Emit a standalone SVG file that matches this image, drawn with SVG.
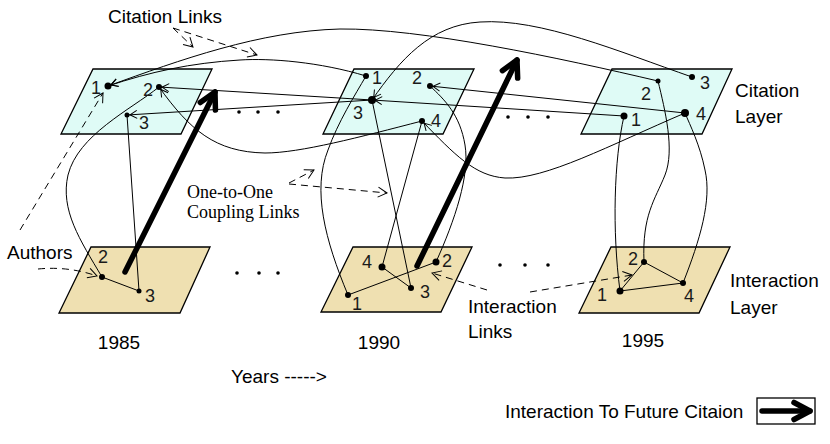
<svg xmlns="http://www.w3.org/2000/svg" width="830" height="444" viewBox="0 0 830 444">
<defs>
<style>
.cit{fill:#dffbf6;stroke:#000;stroke-width:1.3}
.int{fill:#efe0b1;stroke:#000;stroke-width:1.3}
.link{fill:none;stroke:#000;stroke-width:1}
.cite{marker-end:url(#ah)}
.dash{fill:none;stroke:#000;stroke-width:1;stroke-dasharray:7 5;marker-end:url(#dah)}
.thick{fill:none;stroke:#000;stroke-width:5.5;stroke-linecap:round;marker-end:url(#big)}
.lbl{font-family:"Liberation Sans",Arial,sans-serif;font-size:18px;fill:#1a1a1a;text-anchor:middle}
.txt{font-family:"Liberation Sans",Arial,sans-serif;font-size:19px;fill:#000}
.yr{text-anchor:middle}
.serif{font-family:"Liberation Serif","Times New Roman",serif;font-size:18px;fill:#000}
</style>
<marker id="ah" markerUnits="userSpaceOnUse" viewBox="-10 -6 14 12" markerWidth="14" markerHeight="12" refX="3" refY="0" orient="auto">
<path d="M-7,-4 L0,0 L-7,4" fill="none" stroke="#000" stroke-width="1"/>
</marker>
<marker id="dah" markerUnits="userSpaceOnUse" viewBox="-12 -7 14 14" markerWidth="14" markerHeight="14" refX="0" refY="0" orient="auto">
<path d="M-9,-5 L0,0 L-9,5" fill="none" stroke="#000" stroke-width="1"/>
</marker>
<marker id="big" markerUnits="userSpaceOnUse" viewBox="-22 -14 28 28" markerWidth="28" markerHeight="28" refX="0" refY="0" orient="auto">
<path d="M-16,-8.5 L0,0 L-16,8.5" fill="none" stroke="#000" stroke-width="5.5" stroke-linecap="round" stroke-linejoin="round"/>
</marker>
</defs>
<rect width="830" height="444" fill="#fff"/>

<g id="planes">
<polygon id="cit1985" class="cit" points="93,69 212,69 181,134 61,134"/>
<polygon id="cit1990" class="cit" points="354,69 474,69 443,134 323,134"/>
<polygon id="cit1995" class="cit" points="612,69 732,69 702,134 581,134"/>
<polygon id="int1985" class="int" points="91,247 210,247 180,313 59,313"/>
<polygon id="int1990" class="int" points="353,247 472,247 441,312 321,312"/>
<polygon id="int1995" class="int" points="611,247 730,247 699,313 579,313"/>
</g>

<g id="ellipses" fill="#000">
<circle cx="239" cy="112" r="1.8"/><circle cx="258" cy="112" r="1.8"/><circle cx="278" cy="112" r="1.8"/>
<circle cx="508" cy="117" r="1.8"/><circle cx="528" cy="117" r="1.8"/><circle cx="548" cy="117" r="1.8"/>
<circle cx="237" cy="273" r="1.8"/><circle cx="259" cy="273" r="1.8"/><circle cx="278" cy="273" r="1.8"/>
<circle cx="500" cy="265" r="1.8"/><circle cx="525" cy="265" r="1.8"/><circle cx="548" cy="265" r="1.8"/>
</g>

<g id="connectors">
<g id="citation-links">
<path class="link cite" d="M658,81 C560,58 420,28 340,29 C260,31 180,60 108,86"/>
<path class="link cite" d="M692,77 C620,52 540,18 480,22 C430,25 400,60 372,100"/>
<path class="link cite" d="M366,76 C320,62 270,58 240,60 C190,63 150,72 108,86"/>
<path class="link cite" d="M372,100 L159,87"/>
<path class="link cite" d="M372,100 L127,115"/>
<path class="link cite" d="M422,121 C360,137 300,153 265,153 C215,152 190,130 159,87"/>
<path class="link cite" d="M624,116 L372,100"/>
<path class="link cite" d="M685,113 L430,86"/>
<path class="link cite" d="M685,113 C610,145 545,180 505,178 C475,176 455,155 422,121"/>
</g>
<g id="coupling-links">
<path class="link" d="M102,277 C80,240 60,210 68,175 C78,135 130,110 159,87"/>
<path class="link" d="M139,291 L127,115"/>
<path class="link" d="M348,295 C325,240 312,190 328,150 C338,122 355,95 366,76"/>
<path class="link" d="M411,288 L372,100"/>
<path class="link" d="M382,267 L422,121"/>
<path class="link" d="M436,262 C455,220 470,175 465,145 C460,115 445,100 430,86"/>
<path class="link" d="M620,291 C612,230 614,160 624,116"/>
<path class="link" d="M644,262 C642,215 655,200 665,175 C675,150 665,110 658,81"/>
<path class="link" d="M683,283 C700,240 712,200 705,170 C700,145 690,125 685,113"/>
</g>
<g id="interaction-links">
<path class="link" d="M102,277 L139,291"/>
<path class="link" d="M348,295 L436,262"/>
<path class="link" d="M382,267 L411,288"/>
<path class="link" d="M620,291 L644,262"/>
<path class="link" d="M644,262 L683,283"/>
<path class="link" d="M620,291 L683,283"/>
</g>
<g id="annotation-arrows">
<path class="dash" d="M173,28 L193,47"/>
<path class="dash" d="M173,28 L257,55"/>
<path class="dash" d="M20,230 L103,93"/>
<path class="dash" d="M38,269 Q68,266 97,276"/>
<path class="dash" d="M289,183 L314,170"/>
<path class="dash" d="M289,184 L387,193"/>
<path class="dash" d="M487,290 L432,273"/>
<path class="dash" d="M530,292 L632,275"/>
</g>
<g id="future-arrows">
<path class="thick" d="M125,272 L215,92"/>
<path class="thick" d="M417,266 L517,60"/>
</g>
</g>

<g id="c1985-1"><circle cx="108" cy="86" r="3.5"/><text class="lbl" x="96" y="94">1</text></g>
<g id="c1985-2"><circle cx="159" cy="87" r="3"/><text class="lbl" x="148" y="96">2</text></g>
<g id="c1985-3"><circle cx="127" cy="115" r="2.5"/><text class="lbl" x="144" y="129">3</text></g>
<g id="c1990-1"><circle cx="366" cy="76" r="3"/><text class="lbl" x="377" y="84">1</text></g>
<g id="c1990-2"><circle cx="430" cy="86" r="3"/><text class="lbl" x="417" y="84">2</text></g>
<g id="c1990-3"><circle cx="372" cy="100" r="4"/><text class="lbl" x="358" y="119">3</text></g>
<g id="c1990-4"><circle cx="422" cy="121" r="3"/><text class="lbl" x="436" y="127">4</text></g>
<g id="c1995-1"><circle cx="624" cy="116" r="3.5"/><text class="lbl" x="636" y="126">1</text></g>
<g id="c1995-2"><circle cx="658" cy="81" r="2.5"/><text class="lbl" x="646" y="100">2</text></g>
<g id="c1995-3"><circle cx="692" cy="77" r="3"/><text class="lbl" x="705" y="89">3</text></g>
<g id="c1995-4"><circle cx="685" cy="113" r="4"/><text class="lbl" x="701" y="120">4</text></g>
<g id="i1985-2"><circle cx="102" cy="277" r="3"/><text class="lbl" x="103" y="263">2</text></g>
<g id="i1985-3"><circle cx="139" cy="291" r="2.5"/><text class="lbl" x="150" y="302">3</text></g>
<g id="i1990-1"><circle cx="348" cy="295" r="3"/><text class="lbl" x="357" y="310">1</text></g>
<g id="i1990-2"><circle cx="436" cy="262" r="3.5"/><text class="lbl" x="447" y="267">2</text></g>
<g id="i1990-3"><circle cx="411" cy="288" r="3"/><text class="lbl" x="425" y="298">3</text></g>
<g id="i1990-4"><circle cx="382" cy="267" r="3.5"/><text class="lbl" x="367" y="268">4</text></g>
<g id="i1995-1"><circle cx="620" cy="291" r="3.5"/><text class="lbl" x="602" y="301">1</text></g>
<g id="i1995-2"><circle cx="644" cy="262" r="3"/><text class="lbl" x="633" y="265">2</text></g>
<g id="i1995-4"><circle cx="683" cy="283" r="3"/><text class="lbl" x="689" y="302">4</text></g>

<g id="labels">
<text class="txt" x="108" y="23">Citation Links</text>
<text class="txt" x="735" y="97">Citation</text>
<text class="txt" x="735" y="123">Layer</text>
<text class="txt" x="730" y="287">Interaction</text>
<text class="txt" x="730" y="314">Layer</text>
<text class="txt" x="7" y="259">Authors</text>
<text class="serif" x="187" y="198">One-to-One</text>
<text class="serif" x="187" y="218">Coupling Links</text>
<text class="txt" x="468" y="313">Interaction</text>
<text class="txt" x="468" y="338">Links</text>
<text class="txt yr" x="119" y="349">1985</text>
<text class="txt yr" x="379" y="349">1990</text>
<text class="txt yr" x="643" y="347">1995</text>
<text class="txt" x="231" y="383">Years -----&gt;</text>
</g>

<g id="legend">
<text class="txt" x="505" y="418">Interaction To Future Citaion</text>
<rect x="757" y="398" width="58" height="26" fill="#fff" stroke="#000" stroke-width="1.3"/>
<path class="thick" d="M762,411 L810,411"/>
</g>
</svg>
